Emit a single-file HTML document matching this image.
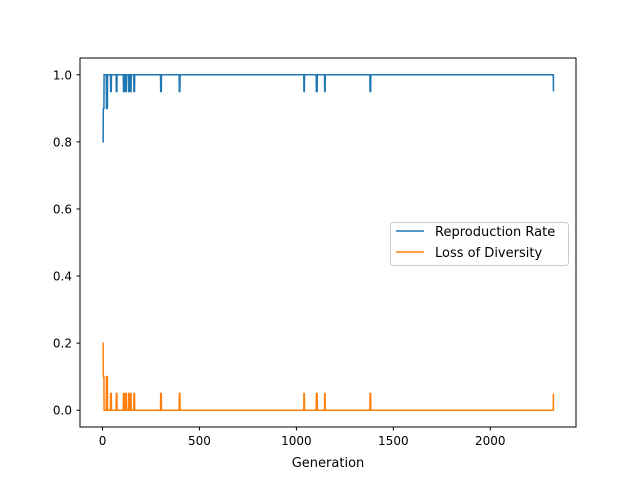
<!DOCTYPE html>
<html><head><meta charset="utf-8"><style>
body{margin:0;background:#fff;}
svg{display:block;font-family:"DejaVu Sans","Liberation Sans",sans-serif;}
</style></head><body>
<svg id="chart" width="640" height="480" viewBox="0 0 640 480">
<rect x="0" y="0" width="640" height="480" fill="#fff"/>
<g id="plot"></g>
<rect x="80" y="58" width="496" height="369" fill="none" stroke="#000" stroke-width="1"/>
<g id="xt"></g><g id="yt"></g>
<text x="328" y="467" font-size="13" text-anchor="middle">Generation</text>
<g>
<rect x="390.5" y="222.5" width="178" height="43" rx="3" fill="#fff" fill-opacity="0.8" stroke="#ccc"/>
<line x1="396" y1="231" x2="424" y2="231" stroke="#1f77b4" stroke-width="1.5"/>
<text x="435" y="236" font-size="13">Reproduction Rate</text>
<line x1="396" y1="252" x2="424" y2="252" stroke="#ff7f0e" stroke-width="1.5"/>
<text x="435" y="257" font-size="13">Loss of Diversity</text>
</g>
</svg>
<script>
const lastGen = 2326;
const dipGens = [0, 4, 20, 42, 71, 108, 117, 134, 142, 162, 300, 396, 1039, 1103, 1146, 1380, 2326];
const dipLens = [4, 4, 6, 4, 4, 6, 6, 6, 6, 4, 4, 4, 3, 5, 3, 4, 3];
const reproVals = [0.8, 0.9, 0.9, 0.95, 0.95, 0.95, 0.95, 0.95, 0.95, 0.95, 0.95, 0.95, 0.95, 0.95, 0.95, 0.95, 0.95];
const lossVals = [0.2, 0.1, 0.1, 0.05, 0.05, 0.05, 0.05, 0.05, 0.05, 0.05, 0.05, 0.05, 0.05, 0.05, 0.05, 0.05, 0.05];
const xTicks = [0, 500, 1000, 1500, 2000];
const yTicks = [0.0, 0.2, 0.4, 0.6, 0.8, 1.0];

const NS = "http://www.w3.org/2000/svg";
const xmin = -116.3, xmax = 2442.3, ymin = -0.05, ymax = 1.05;
const X = v => 80 + (v - xmin) / (xmax - xmin) * 496;
const Y = v => 427 - (v - ymin) / (ymax - ymin) * 369;

function series(vals, base) {
  const pts = [];
  let g = 0;
  dipGens.forEach((d, i) => {
    const end = Math.min(d + dipLens[i], lastGen);
    if (d > g) { pts.push([g, base]); pts.push([d - 1, base]); }
    pts.push([d, vals[i]]);
    if (end > d) pts.push([end - 1, vals[i]]);
    g = end;
  });
  if (g <= lastGen) pts.push([g, base]);
  if (g < lastGen) pts.push([lastGen, base]);
  return pts.map((p, i) => (i ? "L" : "M") + X(p[0]).toFixed(2) + " " + Y(p[1]).toFixed(2)).join(" ");
}
const plot = document.getElementById("plot");
const p1 = document.createElementNS(NS, "path");
p1.setAttribute("d", series(reproVals, 1.0));
p1.setAttribute("fill", "none"); p1.setAttribute("stroke", "#1f77b4"); p1.setAttribute("stroke-width", "1.5");


plot.appendChild(p1);
const p2 = document.createElementNS(NS, "path");
p2.setAttribute("d", series(lossVals, 0.0));
p2.setAttribute("fill", "none"); p2.setAttribute("stroke", "#ff7f0e"); p2.setAttribute("stroke-width", "1.5");


plot.appendChild(p2);

const xt = document.getElementById("xt");
xTicks.forEach(t => {
  const l = document.createElementNS(NS, "line");
  l.setAttribute("x1", X(t)); l.setAttribute("x2", X(t)); l.setAttribute("y1", 427); l.setAttribute("y2", 430.5);
  l.setAttribute("stroke", "#000");
  
  
  xt.appendChild(l);
  const tx = document.createElementNS(NS, "text");
  tx.setAttribute("x", X(t)); tx.setAttribute("y", 445); tx.setAttribute("font-size", "12");
  tx.setAttribute("text-anchor", "middle"); tx.textContent = t;
  
  
  xt.appendChild(tx);
});
const yt = document.getElementById("yt");
yTicks.forEach(t => {
  const l = document.createElementNS(NS, "line");
  l.setAttribute("x1", 76.5); l.setAttribute("x2", 80); l.setAttribute("y1", Y(t)); l.setAttribute("y2", Y(t));
  l.setAttribute("stroke", "#000");
  
  
  yt.appendChild(l);
  const tx = document.createElementNS(NS, "text");
  tx.setAttribute("x", 72); tx.setAttribute("y", Y(t) + 4.5); tx.setAttribute("font-size", "12");
  tx.setAttribute("text-anchor", "end"); tx.textContent = t.toFixed(1);
  
  
  yt.appendChild(tx);
});
</script>
</body></html>
